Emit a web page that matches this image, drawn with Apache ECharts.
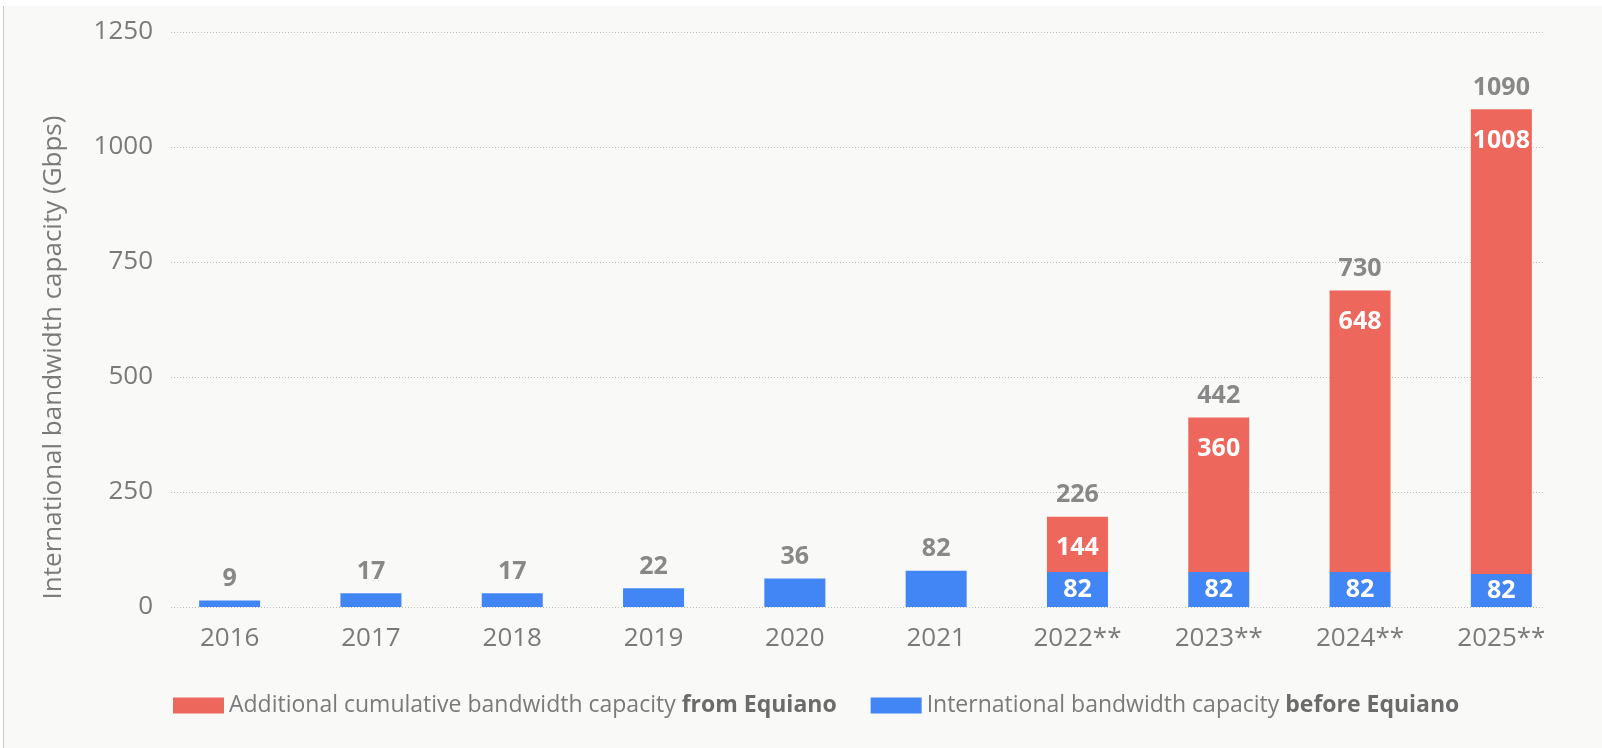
<!DOCTYPE html>
<html><head><meta charset="utf-8">
<script src="https://cdn.jsdelivr.net/npm/echarts@6/dist/echarts.min.js"></script>
<style>html,body{margin:0;padding:0;background:#fff;}#c{width:1602px;height:748px;}</style>
</head><body><div id="c"></div>
<script>
// ---- data ----
const categories = ['2016', '2017', '2018', '2019', '2020', '2021', '2022**', '2023**', '2024**', '2025**'];
// bar heights as drawn in the picture (Gbps)
const beforeEquiano = [14, 30, 30, 41, 62, 79, 76, 76, 76, 72];
const fromEquiano = [null, null, null, null, null, null, 120, 336, 612, 1010];
// printed value labels
const totalLabels = ['9', '17', '17', '22', '36', '82', '226', '442', '730', '1090'];
const beforeLabels = ['', '', '', '', '', '', '82', '82', '82', '82'];
const fromLabels = ['', '', '', '', '', '', '144', '360', '648', '1008'];
const yMin = 0, yMax = 1250, yStep = 250;
const nameFrom = 'Additional cumulative bandwidth capacity from Equiano';
const nameBefore = 'International bandwidth capacity before Equiano';
const yName = 'International bandwidth capacity (Gbps)';

// ---- chart ----
const FONT = 'Open Sans';
const GRAY = '#7a7a7a';
const DARK = '#6b6b6b';
const RED = '#EE675C';
const BLUE = '#4285F4';
const totals = beforeEquiano.map((v, i) => v + (fromEquiano[i] || 0));

const chart = echarts.init(document.getElementById('c'), null, {renderer: 'canvas'});
chart.setOption({
  backgroundColor: '#f9f9f7',
  animation: false,
  textStyle: {fontFamily: FONT},
  graphic: [
    {type: 'rect', shape: {x: 0, y: 0, width: 1602, height: 6}, style: {fill: '#ffffff'}, silent: true},
    {type: 'rect', shape: {x: 0, y: 0, width: 3, height: 748}, style: {fill: '#ffffff'}, silent: true},
    {type: 'rect', shape: {x: 3, y: 6, width: 1, height: 742}, style: {fill: '#c8c8c8'}, silent: true}
  ],
  grid: [
    {left: 171, right: 58, top: 32, bottom: 141},
    {left: 159, right: 30, top: 32, bottom: 141}
  ],
  xAxis: [
    {gridIndex: 0, type: 'category', data: categories, show: false},
    {gridIndex: 1, type: 'category', data: categories,
     axisLine: {show: false}, axisTick: {show: false},
     axisLabel: {color: GRAY, fontSize: 26, margin: 19, fontFamily: FONT}}
  ],
  yAxis: [
    {gridIndex: 0, type: 'value', min: yMin, max: yMax, interval: yStep,
     name: yName, nameLocation: 'middle', nameGap: 104,
     nameTextStyle: {color: GRAY, fontSize: 26, fontFamily: FONT, padding: [0, 76, 0, 0]},
     axisLine: {show: false}, axisTick: {show: false},
     axisLabel: {color: GRAY, fontSize: 26, margin: 18, fontFamily: FONT, formatter: v => String(v)},
     splitLine: {show: true, lineStyle: {color: '#bdbdbd', width: 1, type: [1, 2]}}},
    {gridIndex: 1, type: 'value', min: yMin, max: yMax, interval: yStep, show: false,
     splitLine: {show: false}}
  ],
  legend: {
    left: 168, top: 689, icon: 'rect', itemWidth: 51, itemHeight: 16, itemGap: 34,
    data: [nameFrom, nameBefore],
    formatter: function (n) {
      const k = n.lastIndexOf(n.indexOf('from Equiano') >= 0 ? 'from Equiano' : 'before Equiano');
      return '{a|' + n.slice(0, k) + '}{b|' + n.slice(k) + '}';
    },
    textStyle: {
      rich: {
        a: {color: GRAY, fontSize: 23, fontFamily: FONT},
        b: {color: DARK, fontSize: 23, fontWeight: 'bold', fontFamily: FONT}
      }
    }
  },
  series: [
    {
      name: nameBefore, type: 'bar', xAxisIndex: 1, yAxisIndex: 1, stack: 'cap',
      barWidth: 61, itemStyle: {color: BLUE},
      data: beforeEquiano,
      label: {show: true, position: 'inside', color: '#fff', fontSize: 25, fontWeight: 'bold', fontFamily: FONT,
        formatter: p => beforeLabels[p.dataIndex]}
    },
    {
      name: nameFrom, type: 'bar', xAxisIndex: 1, yAxisIndex: 1, stack: 'cap',
      barWidth: 61, itemStyle: {color: RED},
      data: fromEquiano,
      label: {show: true, position: 'insideTop', distance: 19, color: '#fff', fontSize: 25, fontWeight: 'bold', fontFamily: FONT,
        formatter: p => fromLabels[p.dataIndex]}
    },
    {
      name: 'totals', type: 'scatter', xAxisIndex: 1, yAxisIndex: 1, symbolSize: 0,
      data: totals, silent: true,
      label: {show: true, position: 'top', distance: 9, color: DARK, fontSize: 25, fontWeight: 'bold', fontFamily: FONT,
        formatter: p => totalLabels[p.dataIndex]}
    }
  ]
});
</script>
</body></html>
